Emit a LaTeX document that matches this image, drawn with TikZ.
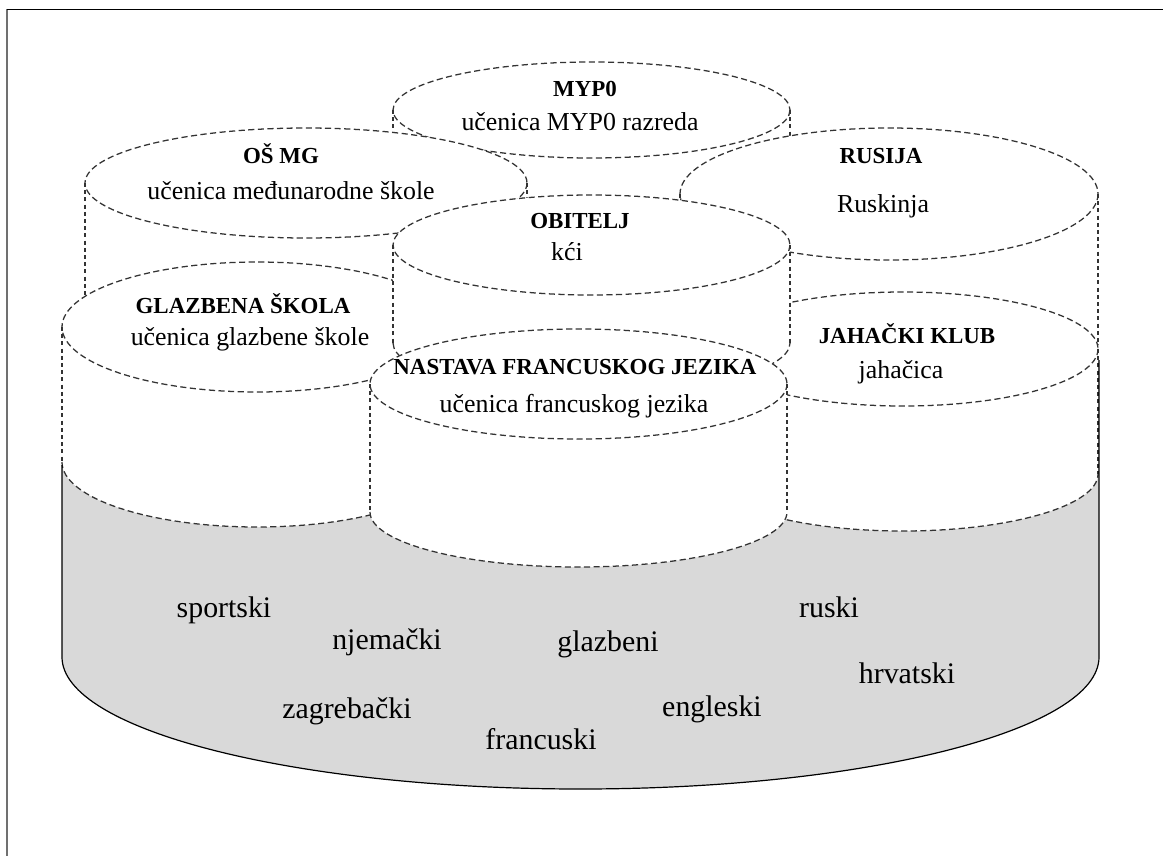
\documentclass[tikz,border=0pt]{standalone}
\usepackage{fontspec}
\setmainfont{Liberation Serif}
\definecolor{basegray}{HTML}{D9D9D9}
\definecolor{framegray}{HTML}{707070}
% one "can": top ellipse centre (#1,#2), radii #3 x #4, wall height #5
\newcommand{\drawcan}[5]{%
  \fill[white] ({#1-#3},#2) -- ({#1-#3},{#2+#5})
    arc[start angle=180,end angle=0,x radius=#3,y radius=#4]
    -- ({#1+#3},#2)
    arc[start angle=0,end angle=-180,x radius=#3,y radius=#4] -- cycle;
  \draw[wall] ({#1-#3},#2) -- ({#1-#3},{#2+#5})
              ({#1+#3},#2) -- ({#1+#3},{#2+#5});
  \draw[rim] ({#1-#3},{#2+#5})
    arc[start angle=180,end angle=0,x radius=#3,y radius=#4];
  \draw[rim] (#1,#2) ellipse[x radius=#3,y radius=#4];
}
\tikzset{
  rim/.style={draw=black!80, line width=0.95pt, dash pattern=on 4.6pt off 2.6pt},
  wall/.style={draw=black!80, line width=0.95pt, dash pattern=on 3pt off 2.4pt},
  head/.style={anchor=base, inner sep=0pt, font=\fontsize{17.2}{19}\selectfont\bfseries},
  role/.style={anchor=base, inner sep=0pt, font=\fontsize{19.4}{21}\selectfont},
  word/.style={anchor=base, inner sep=0pt, font=\fontsize{22.4}{24}\selectfont},
  outline/.style={draw=black, line width=0.9pt},
}
\begin{document}
\begin{tikzpicture}[x=0.75pt,y=-0.75pt]
\useasboundingbox (0,0) rectangle (1163,856);

% frame
\draw[framegray, line width=1.4pt] (7,9) -- (7,856);
\draw[black, line width=0.6pt] (7,9) -- (1163,9);

% grey base
\fill[basegray] (62,465) -- (62,657)
  arc[start angle=180,end angle=0,x radius=518.5,y radius=132]
  -- (1099,360) -- (1000,420) -- (800,440) -- (400,440) -- (200,450) -- cycle;

% cans, back to front
\drawcan{591.5}{110}{198.5}{48}{100}   % MYP0
\drawcan{306}{183}{221}{55}{130}       % OS MG
\drawcan{889}{194}{209}{66}{150}       % RUSIJA
\drawcan{257}{327}{195}{65}{135}       % GLAZBENA SKOLA
\drawcan{903}{349}{195}{57}{125}       % JAHACKI KLUB
\drawcan{591.5}{245}{198.5}{50}{98}    % OBITELJ
\drawcan{578.5}{384}{208.5}{55}{128}   % NASTAVA

% base outline
\draw[outline] (62,465) -- (62,657)
  arc[start angle=180,end angle=0,x radius=518.5,y radius=132]
  -- (1099,360);

% labels
\node[head] (t1) at (585,96) {MYP0};
\node[role] (r1) at (580,130) {učenica MYP0 razreda};
\node[head] (t2) at (281,163) {OŠ MG};
\node[role] (r2) at (291,199) {učenica međunarodne škole};
\node[head] (t3) at (881,163) {RUSIJA};
\node[role] (r3) at (883,212) {Ruskinja};
\node[head] (t4) at (580,228) {OBITELJ};
\node[role] (r4) at (567,260) {kći};
\node[head] (t5) at (243,313) {GLAZBENA ŠKOLA};
\node[role] (r5) at (250,345) {učenica glazbene škole};
\node[head] (t6) at (907,343) {JAHAČKI KLUB};
\node[role] (r6) at (901,378) {jahačica};
\node[head] (t7) at (575,374) {NASTAVA FRANCUSKOG JEZIKA};
\node[role] (r7) at (574,412) {učenica francuskog jezika};

\node[word] (w1) at (224,617) {sportski};
\node[word] (w2) at (387,649) {njemački};
\node[word] (w3) at (608,651) {glazbeni};
\node[word] (w4) at (829,617) {ruski};
\node[word] (w5) at (907,683) {hrvatski};
\node[word] (w6) at (347,718) {zagrebački};
\node[word] (w7) at (712,716) {engleski};
\node[word] (w8) at (541,749) {francuski};
\end{tikzpicture}
\end{document}
